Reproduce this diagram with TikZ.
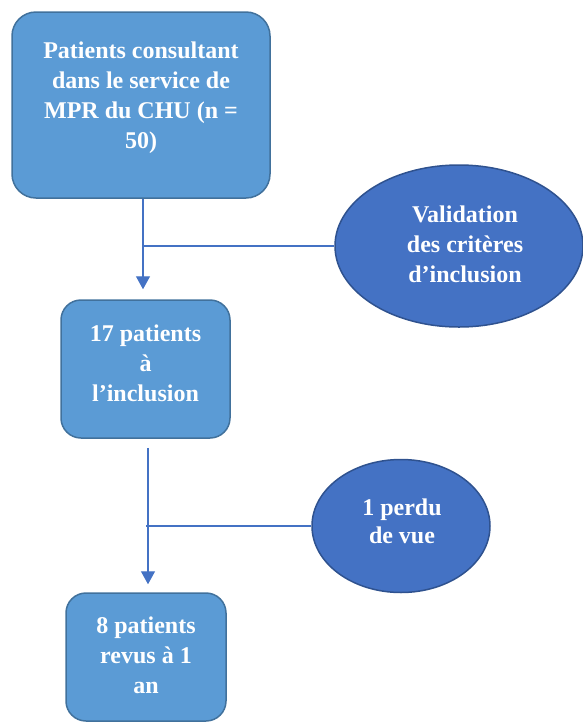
\documentclass[tikz,border=0pt]{standalone}
\usepackage{fontspec}
\setmainfont{Liberation Serif}
\usetikzlibrary{arrows.meta,shapes.geometric}
\definecolor{boxfill}{HTML}{5B9BD5}
\definecolor{boxline}{HTML}{41719C}
\definecolor{ellfill}{HTML}{4472C4}
\definecolor{ellline}{HTML}{2F528F}
\definecolor{connc}{HTML}{4472C4}
\begin{document}
\begin{tikzpicture}[x=1pt,y=-1pt,
  box/.style={rectangle, draw=boxline, line width=1.5pt, fill=boxfill, rounded corners=24pt, inner sep=0pt},
  ell/.style={ellipse, draw=ellline, line width=1.5pt, fill=ellfill, inner sep=0pt},
  txt/.style={text=white, font=\fontsize{24}{30}\selectfont\bfseries, align=center, inner sep=0pt},
  conn/.style={draw=connc, line width=1.3pt},
  arr/.style={conn, -{Triangle[width=14pt,length=13pt]}}]
\useasboundingbox (0,0) rectangle (582,724);
% boxes
\node[box, minimum width=258pt, minimum height=186pt] (b1) at (141,105) {};
\node[txt] (t1) at (141,98) {Patients consultant\\dans le service de\\MPR du CHU (n =\\50)};
\node[box, minimum width=169pt, minimum height=138pt, rounded corners=20pt] (b2) at (145.5,369) {};
\node[txt] (t2) at (145.5,363) {17 patients\\à\\l’inclusion};
\node[box, minimum width=160pt, minimum height=128pt, rounded corners=20pt] (b3) at (146,657) {};
\node[txt] (t3) at (146,655) {8 patients\\revus à 1\\an};
% ellipses
\node[ell, minimum width=248pt, minimum height=162pt] (e1) at (459,246) {};
\node[txt] (te1) at (465,244) {Validation\\des critères\\d’inclusion};
\node[ell, minimum width=178pt, minimum height=133pt] (e2) at (401,526) {};
\node[txt, font=\fontsize{24}{28}\selectfont\bfseries] (te2) at (402,521) {1 perdu\\de vue};
% junctions
\coordinate (j1) at (143,246);
\coordinate (j2) at (148,526);
% connectors
\draw[arr, shorten >=10pt] (b1.south -| j1) -- (b2.north -| j1);
\draw[conn] (e1.west) -- (j1);
\draw[arr, shorten <=9pt, shorten >=8pt] (b2.south -| j2) -- (b3.north -| j2);
\draw[conn] (e2.west) -- ([xshift=-2pt]j2);
\end{tikzpicture}
\end{document}
